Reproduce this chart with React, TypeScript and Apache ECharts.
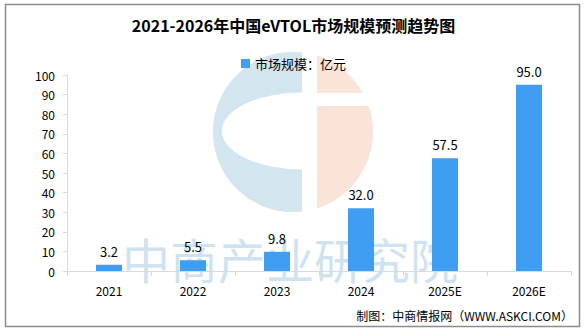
import React, { useEffect, useRef } from "react";
import * as echarts from "echarts";

const titleText = "2021-2026年中国eVTOL市场规模预测趋势图";
const seriesName = "市场规模：亿元";
const categories = ["2021", "2022", "2023", "2024", "2025E", "2026E"];
const values = [3.2, 5.5, 9.8, 32.0, 57.5, 95.0];
const yMin = 0;
const yMax = 100;
const yInterval = 10;
const sourceText = "制图：中商情报网（WWW.ASKCI.COM）";
const watermarkText = "中商产业研究院";

const FONT = "'Noto Sans CJK SC', 'Noto Sans', sans-serif";

export default function App() {
  const ref = useRef<HTMLDivElement>(null);

  useEffect(() => {
    if (!ref.current) return;
    const chart = echarts.init(ref.current, null, { renderer: "svg" });
    const blue = "#D3E5EF";
    const pink = "#FAE3D9";
    chart.setOption({
      animation: false,
      backgroundColor: "#ffffff",
      textStyle: { fontFamily: FONT },
      title: {
        text: titleText,
        left: "center",
        top: 12,
        textStyle: { fontSize: 16, fontWeight: "bold", color: "#000", fontFamily: FONT },
      },
      legend: {
        data: [seriesName],
        top: 52,
        left: "center",
        itemWidth: 9,
        itemHeight: 9,
        icon: "rect",
        textStyle: { fontSize: 13, color: "#000", fontFamily: FONT },
      },
      grid: { left: 67, right: 16, top: 75, bottom: 61, containLabel: false },
      xAxis: {
        type: "category",
        data: categories,
        boundaryGap: true,
        axisLine: { lineStyle: { color: "#d9d9d9", width: 1 } },
        axisTick: { show: true, length: 5, lineStyle: { color: "#d9d9d9" } },
        axisLabel: { fontSize: 12, color: "#000", margin: 13, fontFamily: FONT },
      },
      yAxis: {
        type: "value",
        min: yMin,
        max: yMax,
        interval: yInterval,
        splitLine: { show: false },
        axisLine: { show: true, lineStyle: { color: "#d9d9d9", width: 1 } },
        axisTick: { show: true, length: 4, lineStyle: { color: "#d9d9d9" } },
        axisLabel: { fontSize: 12, color: "#000", margin: 12, fontFamily: FONT },
      },
      graphic: [
        {
          type: "rect",
          z: -10,
          shape: { x: 5.5, y: 4.5, width: 574, height: 322 },
          style: { fill: "none", stroke: "#8c8c8c", lineWidth: 1.5 },
        },
        {
          type: "circle",
          z: -5,
          shape: { cx: 293, cy: 132, r: 80 },
          style: { fill: pink },
        },
        {
          type: "sector",
          z: -4,
          shape: { cx: 293, cy: 132, r: 80, r0: 0, startAngle: Math.PI / 2, endAngle: (Math.PI * 3) / 2 },
          style: { fill: blue },
        },
        {
          type: "rect",
          z: -4,
          shape: { x: 292.5, y: 52.6, width: 9.5, height: 158.8 },
          style: { fill: blue },
        },
        {
          type: "rect",
          z: -3,
          shape: { x: 302, y: 48, width: 15, height: 170 },
          style: { fill: "#ffffff" },
        },
        {
          type: "sector",
          z: -3,
          x: 302,
          y: 131,
          scaleX: 80 / 38.5,
          shape: { cx: 0, cy: 0, r: 38.5, r0: 0, startAngle: Math.PI / 2, endAngle: (Math.PI * 3) / 2 },
          style: { fill: "#ffffff" },
        },
        {
          type: "rect",
          z: -3,
          shape: { x: 316, y: 93, width: 70, height: 13 },
          style: { fill: "#ffffff" },
        },
        {
          type: "text",
          z: -2,
          x: 290,
          y: 258,
          style: {
            text: watermarkText,
            fontSize: 48,
            fontFamily: FONT,
            fill: "rgba(190,218,234,0.75)",
            align: "center",
            verticalAlign: "middle",
          },
        },
        {
          type: "text",
          right: 14,
          top: 309,
          style: {
            text: sourceText,
            fontSize: 12,
            fontFamily: FONT,
            fill: "#000",
          },
        },
      ],
      series: [
        {
          name: seriesName,
          type: "bar",
          data: values,
          barWidth: 26,
          itemStyle: { color: "#409EF2" },
          label: {
            show: true,
            position: "top",
            distance: 7,
            fontSize: 13,
            color: "#000",
            fontFamily: FONT,
            formatter: (p: any) => Number(p.value).toFixed(1),
          },
        },
      ],
    });
    return () => chart.dispose();
  }, []);

  return (
    <div
      ref={ref}
      style={{ position: "fixed", left: 0, top: 0, width: 587, height: 332 }}
    />
  );
}
